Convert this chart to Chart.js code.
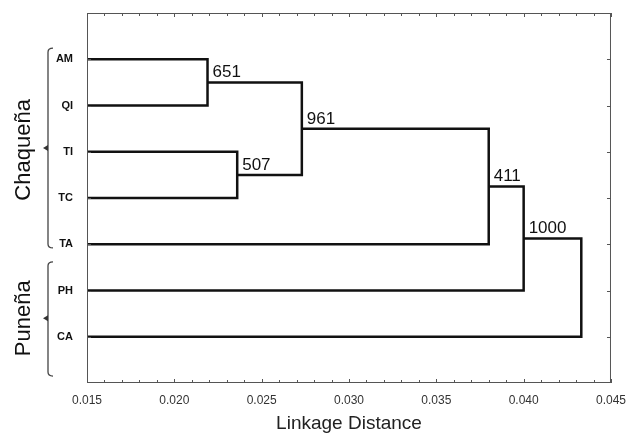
<!DOCTYPE html>
<html>
<head>
<meta charset="utf-8">
<script src="https://cdn.jsdelivr.net/npm/chart.js@4"></script>
<style>body{margin:0;background:#fff}</style>
</head>
<body>
<canvas id="c" width="628" height="433"></canvas>
<script>
const leaves = ['AM', 'QI', 'TI', 'TC', 'TA', 'PH', 'CA'];
// merges: node ids, leaves are 0..6, each merge makes node 7, 8, ...
const mergeLeft  = [0, 2, 7, 9, 10, 11];
const mergeRight = [1, 3, 8, 4, 5, 6];
const mergeDist  = [0.0219, 0.0236, 0.0273, 0.0380, 0.0400, 0.0433];
const bootstrap  = ['651', '507', '961', '411', '1000', ''];
const xTickMin = 0.015, xTickMax = 0.045;

const FONT = "Arial, 'Liberation Sans', sans-serif";

// position of each node (x = join distance, y = row)
const nodeX = leaves.map(() => xTickMin);
const nodeY = leaves.map((l, i) => i);
mergeDist.forEach((d, k) => {
  nodeX.push(d);
  nodeY.push((nodeY[mergeLeft[k]] + nodeY[mergeRight[k]]) / 2);
});

const datasets = mergeDist.map((d, k) => {
  const a = mergeLeft[k], b = mergeRight[k];
  return {
    data: [
      {x: nodeX[a], y: nodeY[a]},
      {x: d, y: nodeY[a]},
      {x: d, y: nodeY[b]},
      {x: nodeX[b], y: nodeY[b]}
    ],
    showLine: true,
    borderColor: '#111',
    borderWidth: 2.5,
    pointRadius: 0,
    fill: false,
    tension: 0
  };
});

function brace(ctx, x, y0, y1, ym) {
  ctx.beginPath();
  ctx.moveTo(x + 5, y0);
  ctx.quadraticCurveTo(x, y0, x, y0 + 4);
  ctx.lineTo(x, y1 - 4);
  ctx.quadraticCurveTo(x, y1, x + 5, y1);
  ctx.stroke();
  ctx.beginPath();
  ctx.moveTo(x, ym - 3);
  ctx.lineTo(x - 5, ym);
  ctx.lineTo(x, ym + 3);
  ctx.closePath();
  ctx.fill();
}

const decor = {
  id: 'decor',
  afterDraw(chart) {
    const ctx = chart.ctx;
    const {left, right, top, bottom} = chart.chartArea;
    const xs = chart.scales.x, ys = chart.scales.y;
    ctx.save();
    // frame
    ctx.strokeStyle = '#555';
    ctx.lineWidth = 1;
    ctx.strokeRect(left + 0.5, top + 0.5, right - left - 1, bottom - top - 1);
    // ticks
    ctx.beginPath();
    for (let v = 15; v <= 45; v++) {
      const px = Math.round(xs.getPixelForValue(v / 1000)) + 0.5;
      const len = v % 5 === 0 ? 4 : 3;
      ctx.moveTo(px, bottom); ctx.lineTo(px, bottom - len);
      ctx.moveTo(px, top); ctx.lineTo(px, top + len);
    }
    leaves.forEach((l, i) => {
      const py = Math.round(ys.getPixelForValue(i)) + 0.5;
      ctx.moveTo(right, py); ctx.lineTo(right - 4, py);
      ctx.moveTo(left, py); ctx.lineTo(left + 4, py);
    });
    ctx.stroke();

    // bootstrap values at nodes
    ctx.fillStyle = '#111';
    ctx.font = '17px ' + FONT;
    ctx.textAlign = 'left';
    ctx.textBaseline = 'alphabetic';
    mergeDist.forEach((d, k) => {
      if (!bootstrap[k]) return;
      const px = xs.getPixelForValue(d);
      const py = ys.getPixelForValue(nodeY[leaves.length + k]);
      ctx.fillText(bootstrap[k], px + 5, py - 5);
    });

    // group braces
    ctx.strokeStyle = '#444';
    ctx.fillStyle = '#333';
    ctx.lineWidth = 1.3;
    brace(ctx, 48, ys.getPixelForValue(-0.24), ys.getPixelForValue(4.08), ys.getPixelForValue(1.92));
    brace(ctx, 48, ys.getPixelForValue(4.38), ys.getPixelForValue(6.85), ys.getPixelForValue(5.6));

    ctx.fillStyle = '#111';
    ctx.font = '22px ' + FONT;
    ctx.textAlign = 'center';
    [['Chaqueña', 1.96], ['Puneña', 5.6]].forEach(([t, yv]) => {
      ctx.save();
      ctx.translate(30, ys.getPixelForValue(yv));
      ctx.rotate(-Math.PI / 2);
      ctx.fillText(t, 0, 0);
      ctx.restore();
    });
    ctx.restore();
  }
};

new Chart(document.getElementById('c'), {
  type: 'scatter',
  data: {datasets},
  options: {
    responsive: false,
    animation: false,
    layout: {padding: {top: 13, right: 8, left: 0, bottom: 0}},
    plugins: {legend: {display: false}, tooltip: {enabled: false}},
    scales: {
      x: {
        type: 'linear',
        min: xTickMin,
        max: xTickMax,
        afterFit: s => { s.height = 50; },
        grid: {display: false},
        border: {display: false},
        ticks: {
          stepSize: 0.001,
          autoSkip: false,
          maxRotation: 0,
          padding: 2,
          color: '#333',
          font: {family: FONT, size: 12},
          callback: v => {
            const m = Math.round(v * 1000);
            return m % 5 === 0 ? (m / 1000).toFixed(3) : '';
          }
        },
        title: {
          display: true,
          text: 'Linkage Distance',
          color: '#222',
          padding: {top: 0, bottom: 0},
          font: {family: FONT, size: 19, lineHeight: 1}
        }
      },
      y: {
        type: 'linear',
        min: -1,
        max: 7,
        reverse: true,
        afterFit: s => { s.width = 87; },
        grid: {display: false},
        border: {display: false},
        ticks: {
          stepSize: 1,
          autoSkip: false,
          padding: 6,
          color: '#111',
          font: {family: FONT, size: 11, weight: 'bold'},
          callback: v => leaves[v] ?? ''
        }
      }
    }
  },
  plugins: [decor]
});
</script>
</body>
</html>
